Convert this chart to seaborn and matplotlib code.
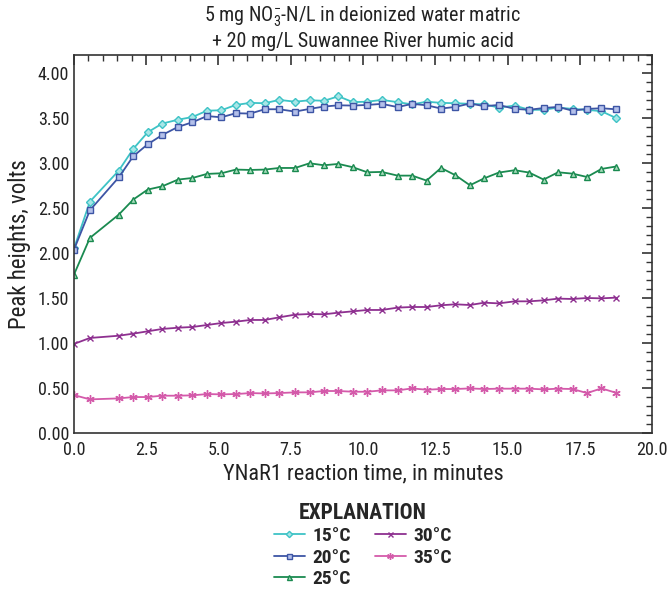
import matplotlib
matplotlib.use("Agg")
import matplotlib.pyplot as plt
import seaborn as sns
from matplotlib import font_manager
from matplotlib.ticker import MultipleLocator

# --- data ---
tempo = [0.0, 0.55, 1.55, 2.05, 2.55, 3.05, 3.6, 4.1, 4.6, 5.1, 5.6, 6.1, 6.6,
         7.1, 7.65, 8.15, 8.65, 9.15, 9.65, 10.15, 10.65, 11.2, 11.7, 12.2,
         12.7, 13.2, 13.7, 14.2, 14.7, 15.25, 15.75, 16.25, 16.75, 17.25,
         17.75, 18.25, 18.75]

pico_15 = [2.05, 2.57, 2.915, 3.156, 3.34, 3.437, 3.48, 3.51, 3.58, 3.585, 3.644,
           3.667, 3.663, 3.70, 3.68, 3.696, 3.69, 3.74, 3.675, 3.68, 3.70, 3.675,
           3.65, 3.68, 3.667, 3.663, 3.656, 3.65, 3.615, 3.637, 3.59, 3.59,
           3.615, 3.60, 3.59, 3.574, 3.50]
pico_20 = [2.037, 2.474, 2.84, 3.074, 3.207, 3.31, 3.40, 3.452, 3.52, 3.507,
           3.552, 3.548, 3.596, 3.596, 3.57, 3.60, 3.626, 3.64, 3.637, 3.644,
           3.656, 3.62, 3.656, 3.64, 3.604, 3.622, 3.66, 3.63, 3.644, 3.60,
           3.59, 3.61, 3.622, 3.58, 3.60, 3.607, 3.596]
pico_25 = [1.76, 2.167, 2.426, 2.593, 2.704, 2.74, 2.815, 2.833, 2.878, 2.885,
           2.926, 2.922, 2.926, 2.944, 2.944, 2.996, 2.974, 2.989, 2.952, 2.896,
           2.90, 2.859, 2.859, 2.804, 2.944, 2.863, 2.752, 2.83, 2.893, 2.919,
           2.893, 2.815, 2.896, 2.881, 2.844, 2.933, 2.96]
pico_30 = [0.99, 1.056, 1.081, 1.104, 1.13, 1.156, 1.17, 1.178, 1.20, 1.222,
           1.237, 1.256, 1.256, 1.285, 1.315, 1.322, 1.319, 1.337, 1.352, 1.367,
           1.367, 1.393, 1.40, 1.40, 1.419, 1.43, 1.422, 1.448, 1.44, 1.463,
           1.463, 1.474, 1.493, 1.489, 1.50, 1.496, 1.504]
pico_35 = [0.422, 0.374, 0.385, 0.40, 0.40, 0.415, 0.415, 0.419, 0.433, 0.43,
           0.433, 0.444, 0.44, 0.444, 0.452, 0.452, 0.467, 0.467, 0.459, 0.459,
           0.474, 0.474, 0.496, 0.481, 0.489, 0.489, 0.496, 0.489, 0.493, 0.493,
           0.493, 0.485, 0.493, 0.489, 0.444, 0.496, 0.448]

rotulos = ['15°C', '20°C', '25°C', '30°C', '35°C']
series = [pico_15, pico_20, pico_25, pico_30, pico_35]

# estilo de cada série
cores = ['#3ec3c6', '#3d55a5', '#1a8a50', '#8e3090', '#d45aaa']
preench = ['#a8e6e7', '#b4c0ea', '#a8dcbc', '#8e3090', '#d45aaa']
marcadores = ['D', 's', '^', 'x', (6, 2, 0)]
tamanhos = [4, 4.5, 4.5, 4.5, 6]

sns.set_style("white")

# procurar uma fonte estreita instalada (a original é condensada)
instaladas = {f.name for f in font_manager.fontManager.ttflist}
estreita = [f for f in ['Liberation Sans Narrow', 'Roboto Condensed', 'Open Sans Condensed',
                        'Noto Sans Condensed', 'DejaVu Sans Condensed'] if f in instaladas]
plt.rcParams['font.family'] = estreita[:1] + ['Roboto', 'DejaVu Sans']
if not estreita:
    plt.rcParams['font.stretch'] = 'condensed'
plt.rcParams['mathtext.default'] = 'regular'

fig = plt.figure(figsize=(6.69, 5.90), dpi=100)
ax = fig.add_axes([0.1106, 0.266, 0.864, 0.641])

for rot, val, cor, pf, mk, ms in zip(rotulos, series, cores, preench, marcadores, tamanhos):
    sns.lineplot(x=tempo, y=val, ax=ax, color=cor, marker=mk, markersize=ms,
                 markerfacecolor=pf, markeredgecolor=cor, markeredgewidth=1.0,
                 linewidth=1.3, label=rot)

ax.set_xlim(0, 20)
ax.set_ylim(0, 4.2)
ax.set_yticks([0, 0.5, 1, 1.5, 2, 2.5, 3, 3.5, 4])
ax.set_yticklabels([f'{v:.2f}' for v in [0, 0.5, 1, 1.5, 2, 2.5, 3, 3.5, 4]])
ax.set_xticks([0, 2.5, 5, 7.5, 10, 12.5, 15, 17.5, 20])
ax.set_xticklabels([f'{v:.1f}' for v in [0, 2.5, 5, 7.5, 10, 12.5, 15, 17.5, 20]])
ax.xaxis.set_minor_locator(MultipleLocator(0.5))
ax.yaxis.set_minor_locator(MultipleLocator(0.1))

ax.tick_params(which='both', direction='in', top=True, right=True, colors='#333333',
               labelcolor='#222222', labelsize=13)
ax.tick_params(which='major', length=7, width=1.2)
ax.tick_params(which='minor', length=4, width=1.0)
ax.tick_params(axis='x', which='major', pad=6)
for lado in ax.spines.values():
    lado.set_color('#333333')
    lado.set_linewidth(1.2)

ax.set_xlabel('YNaR1 reaction time, in minutes', fontsize=16, color='#222222', labelpad=3)
ax.set_ylabel('Peak heights, volts', fontsize=16.5, color='#222222', labelpad=5)
ax.set_title('5 mg NO$_3^{-}$-N/L in deionized water matric\n'
             '+ 20 mg/L Suwannee River humic acid', fontsize=14.5, color='#222222', pad=6)

leg = ax.legend(ncol=2, loc='upper center', bbox_to_anchor=(0.5, -0.145),
                frameon=False, title='EXPLANATION', handlelength=1.6,
                columnspacing=1.2, labelspacing=0.18, handletextpad=0.4,
                borderpad=0.2, markerscale=0.8, prop={'weight': 'bold', 'size': 14})
leg.get_title().set_fontweight('bold')
leg.get_title().set_fontsize(15.5)

plt.savefig('out.png', dpi=100)
